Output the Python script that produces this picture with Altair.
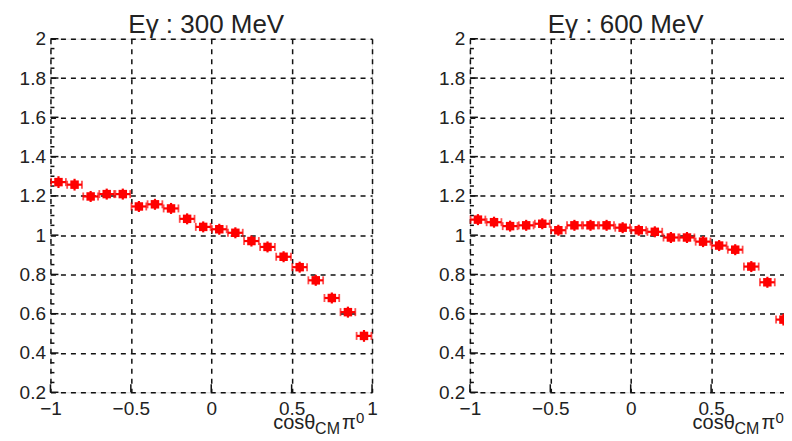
import altair as alt
import pandas as pd

# ---- data ----
cos_bins = [-0.95, -0.85, -0.75, -0.65, -0.55, -0.45, -0.35, -0.25, -0.15, -0.05,
            0.05, 0.15, 0.25, 0.35, 0.45, 0.55, 0.65, 0.75, 0.85, 0.95]
ratio_300 = [1.270, 1.257, 1.197, 1.209, 1.209, 1.146, 1.157, 1.136, 1.083, 1.042,
             1.030, 1.012, 0.970, 0.940, 0.890, 0.837, 0.770, 0.680, 0.608, 0.487]
ratio_600 = [1.079, 1.066, 1.046, 1.050, 1.058, 1.025, 1.050, 1.050, 1.050, 1.038,
             1.025, 1.017, 0.988, 0.988, 0.967, 0.947, 0.926, 0.840, 0.760, 0.570]
err_300 = [0.030, 0.030, 0.028, 0.028, 0.028, 0.028, 0.028, 0.028, 0.028, 0.028,
           0.028, 0.028, 0.028, 0.028, 0.028, 0.028, 0.028, 0.028, 0.028, 0.030]
err_600 = [0.028, 0.028, 0.028, 0.028, 0.028, 0.028, 0.028, 0.028, 0.028, 0.028,
           0.028, 0.028, 0.028, 0.028, 0.028, 0.028, 0.028, 0.028, 0.028, 0.030]
bin_half = [0.046]
panel_titles = ["Eγ : 300 MeV", "Eγ : 600 MeV"]
y_major = [0.2, 0.4, 0.6, 0.8, 1.0, 1.2, 1.4, 1.6, 1.8, 2.0]
y_minor = [0.25, 0.3, 0.35, 0.45, 0.5, 0.55, 0.65, 0.7, 0.75, 0.85, 0.9, 0.95,
           1.05, 1.1, 1.15, 1.25, 1.3, 1.35, 1.45, 1.5, 1.55, 1.65, 1.7, 1.75,
           1.85, 1.9, 1.95]
x_major = [-1, -0.5, 0, 0.5, 1]

W, H = 322, 354
FONT = "Liberation Sans"
RED = "#ff0000"
INK = "#111"


def panel(values, errs, title, side):
    df = pd.DataFrame({"c": cos_bins, "r": values, "e": errs})
    xs = alt.Scale(domain=[-1, 1], nice=False, zero=False)
    ys = alt.Scale(domain=[0.2, 2], nice=False, zero=False)
    common = dict(grid=True, gridDash=[5, 5], gridColor=INK, gridWidth=1.5,
                  ticks=False, domain=False, labelFont=FONT, labelFontSize=19,
                  labelColor="#222", labelOverlap=False, title=None, format="~g")
    xaxis = alt.Axis(values=x_major, labelPadding=7, labelFlush=False, **common)
    yaxis = alt.Axis(values=y_major, labelPadding=5, minExtent=42, maxExtent=42, **common)
    base = alt.Chart(df).transform_calculate(
        lo=f"datum.c - {bin_half[0]}", hi=f"datum.c + {bin_half[0]}",
        rlo="datum.r - datum.e", rhi="datum.r + datum.e")
    X = lambda f: alt.X(f, scale=xs, axis=xaxis)
    Y = lambda f: alt.Y(f, scale=ys, axis=yaxis)

    ymaj = alt.Chart(pd.DataFrame({"v": y_major})).mark_rule(
        color=INK, strokeWidth=1.5).encode(y=Y("v:Q"), x=alt.value(0), x2=alt.value(8))
    ymin = alt.Chart(pd.DataFrame({"v": y_minor})).mark_rule(
        color=INK, strokeWidth=1.5).encode(y=Y("v:Q"), x=alt.value(0), x2=alt.value(4))
    xmaj = alt.Chart(pd.DataFrame({"v": x_major})).mark_rule(
        color=INK, strokeWidth=1.5).encode(x=X("v:Q"), y=alt.value(H), y2=alt.value(H - 8))

    hbar = base.mark_rule(color=RED, strokeWidth=2.2).encode(
        x=X("lo:Q"), x2="hi:Q", y=Y("r:Q"))
    vbar = base.mark_rule(color=RED, strokeWidth=2.2).encode(
        x=X("c:Q"), y=Y("rlo:Q"), y2="rhi:Q")
    capl = base.mark_tick(color=RED, orient="vertical", size=8, thickness=1.8).encode(
        x=X("lo:Q"), y=Y("r:Q"))
    capr = base.mark_tick(color=RED, orient="vertical", size=8, thickness=1.8).encode(
        x=X("hi:Q"), y=Y("r:Q"))
    pts = base.mark_square(size=72, color=RED, opacity=1).encode(
        x=X("c:Q"), y=Y("r:Q"))

    tdf = pd.DataFrame({"t": [title]})
    ttl = alt.Chart(tdf).mark_text(font=FONT, fontSize=26, color="#222", align="center",
                                   baseline="alphabetic").encode(
        text="t:N", x=alt.value(156), y=alt.value(-6))

    lab = pd.DataFrame({"t": ["x"]})
    t1 = alt.Chart(lab).mark_text(text="cosθ", font=FONT, fontSize=20, color="#222",
                                  align="left", baseline="alphabetic").encode(
        x=alt.value(223), y=alt.value(391))
    t2 = alt.Chart(lab).mark_text(text="CM", font=FONT, fontSize=16, color="#222",
                                  align="left", baseline="alphabetic").encode(
        x=alt.value(265), y=alt.value(396))
    t3 = alt.Chart(lab).mark_text(text="π", font=FONT, fontSize=20, color="#222",
                                  align="left", baseline="alphabetic").encode(
        x=alt.value(292), y=alt.value(391))
    t4 = alt.Chart(lab).mark_text(text="0", font=FONT, fontSize=15, color="#222",
                                  align="left", baseline="alphabetic").encode(
        x=alt.value(306), y=alt.value(385))

    # invisible frame anchors that fix the page bounds
    if side == "left":
        anchor = alt.Chart(lab).mark_rule(color="white", opacity=0, strokeWidth=1).encode(
            x=alt.value(-46), x2=alt.value(-46), y=alt.value(-56), y2=alt.value(H + 80))
    else:
        anchor = alt.Chart(lab).mark_rule(color="white", opacity=0, strokeWidth=1).encode(
            x=alt.value(W + 20), x2=alt.value(W + 20), y=alt.value(-56), y2=alt.value(H + 80))

    return alt.layer(anchor, ymaj, ymin, xmaj, hbar, vbar, capl, capr, pts, ttl,
                     t1, t2, t3, t4).properties(width=W, height=H)


chart = alt.hconcat(
    panel(ratio_300, err_300, panel_titles[0], "left"),
    panel(ratio_600, err_600, panel_titles[1], "right"),
    spacing=98,
    bounds="flush",
    padding={"left": -4.5, "top": -26.5, "right": -28.5, "bottom": -39.5},
).configure_view(stroke=INK, strokeWidth=2).configure(font=FONT)

chart.save("out.html", embed_options={"renderer": "svg", "actions": False})
